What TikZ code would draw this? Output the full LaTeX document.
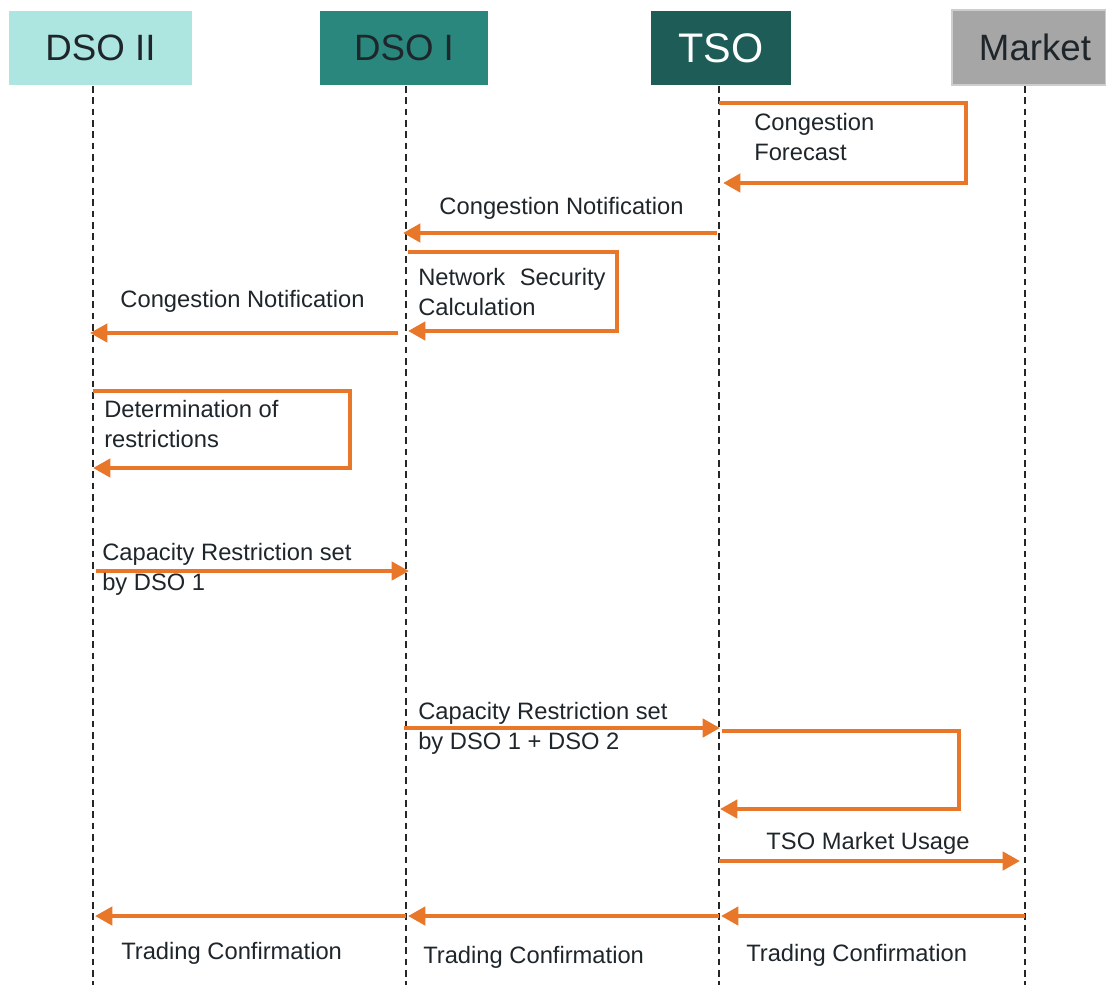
\documentclass[tikz,border=0pt]{standalone}
\usepackage{fontspec}
\setmainfont{Liberation Sans}
\usetikzlibrary{arrows.meta}
\definecolor{orng}{HTML}{E8772A}
\definecolor{txt}{HTML}{1F262B}
\definecolor{dsoiifill}{HTML}{ADE5E0}
\definecolor{dsoifill}{HTML}{2A877D}
\definecolor{tsofill}{HTML}{1E5C57}
\definecolor{mktfill}{HTML}{A6A6A6}
\definecolor{mktborder}{HTML}{CDCDCD}
\begin{document}
\begin{tikzpicture}[x=0.75pt,y=-0.75pt,
 head/.style={inner sep=0pt, minimum height=55.5pt, text=txt, font=\fontsize{27.5}{32}\selectfont},
 life/.style={draw=black!85, line width=1.2pt, dash pattern=on 5pt off 3.5pt},
 msg/.style={draw=orng, line width=3.6pt, line join=miter, -{Triangle[length=13pt,width=13.5pt]}},
 lbl/.style={inner sep=0pt, text=txt, font=\fontsize{17.8}{22.5}\selectfont, align=left},
]
\useasboundingbox (0,0) rectangle (1106,985);
% headers
\node[head, fill=dsoiifill, minimum width=137.25pt] (dso2) at (100.5,48) {DSO II};
\node[head, fill=dsoifill, minimum width=126pt] (dso1) at (404,48) {DSO I};
\node[head, fill=tsofill, minimum width=105pt, text=white, font=\fontsize{31}{36}\selectfont] (tso) at (721,48) {TSO};
\node[head, fill=mktfill, draw=mktborder, line width=1.5pt, minimum width=115pt, minimum height=56.5pt] (mkt) at (1029,47.5) {\hspace{9pt}Market};
% lifelines
\coordinate (l2t) at (93,86);   \coordinate (l2b) at (93,985);
\coordinate (l1t) at (406,86);  \coordinate (l1b) at (406,985);
\coordinate (ltt) at (719,86);  \coordinate (ltb) at (719,985);
\coordinate (lmt) at (1025,86); \coordinate (lmb) at (1025,985);
\draw[life] (l2t) -- (l2b);
\draw[life] (l1t) -- (l1b);
\draw[life] (ltt) -- (ltb);
\draw[life] (lmt) -- (lmb);
% 1: congestion forecast (TSO self)
\coordinate (a1) at (719,103); \coordinate (a2) at (966,103);
\coordinate (a3) at (966,183); \coordinate (a4) at (723,183);
\draw[msg] (a1) -- (a2) -- (a3) -- (a4);
\node[lbl, anchor=west] (fc) at (754,137.5) {Congestion\\Forecast};
% 2: congestion notification TSO -> DSO I
\coordinate (b1) at (717,233); \coordinate (b2) at (403,233);
\draw[msg] (b1) -- (b2);
\node[lbl] (cn1) at (561.5,208) {Congestion Notification};
% 3: network security calculation (DSO I self)
\coordinate (c1) at (408,252); \coordinate (c2) at (617,252);
\coordinate (c3) at (617,331); \coordinate (c4) at (408,331);
\draw[msg] (c1) -- (c2) -- (c3) -- (c4);
\node[lbl, anchor=west] (nsc) at (418,292) {Network\hspace{6pt} Security\\Calculation};
% 4: congestion notification DSO I -> DSO II
\coordinate (d1) at (398,333); \coordinate (d2) at (90,333);
\draw[msg] (d1) -- (d2);
\node[lbl] (cn2) at (242.5,301) {Congestion Notification};
% 5: determination of restrictions (DSO II self)
\coordinate (e1) at (93,391); \coordinate (e2) at (350,391);
\coordinate (e3) at (350,468); \coordinate (e4) at (93,468);
\draw[msg] (e1) -- (e2) -- (e3) -- (e4);
\node[lbl, anchor=west] (dor) at (104,424.5) {Determination of\\restrictions};
% 6: DSO II -> DSO I
\coordinate (g1) at (96,571); \coordinate (g2) at (409,571);
\draw[msg] (g1) -- (g2);
\node[lbl, anchor=west] (cr1) at (102,569) {Capacity Restriction set\\by DSO 1};
% 7: DSO I -> TSO
\coordinate (h1) at (404,728); \coordinate (h2) at (720,728);
\draw[msg] (h1) -- (h2);
\node[lbl, anchor=west] (cr2) at (418,728) {Capacity Restriction set\\by DSO 1 + DSO 2};
% 8: TSO self
\coordinate (i1) at (722,731); \coordinate (i2) at (959,731);
\coordinate (i3) at (959,809); \coordinate (i4) at (720,809);
\draw[msg] (i1) -- (i2) -- (i3) -- (i4);
% 9: TSO -> Market
\coordinate (j1) at (719,861); \coordinate (j2) at (1020,861);
\draw[msg] (j1) -- (j2);
\node[lbl] (tmu) at (868,843) {TSO Market Usage};
% 10: trading confirmations
\coordinate (k1) at (1025,916); \coordinate (k2) at (721,916);
\coordinate (k3) at (719,916); \coordinate (k4) at (408,916);
\coordinate (k5) at (406,916); \coordinate (k6) at (95,916);
\draw[msg] (k1) -- (k2);
\draw[msg] (k3) -- (k4);
\draw[msg] (k5) -- (k6);
\node[lbl, anchor=west] (tc1) at (121,953) {Trading Confirmation};
\node[lbl, anchor=west] (tc2) at (423,957) {Trading Confirmation};
\node[lbl, anchor=west] (tc3) at (746,955) {Trading Confirmation};
\end{tikzpicture}
\end{document}
